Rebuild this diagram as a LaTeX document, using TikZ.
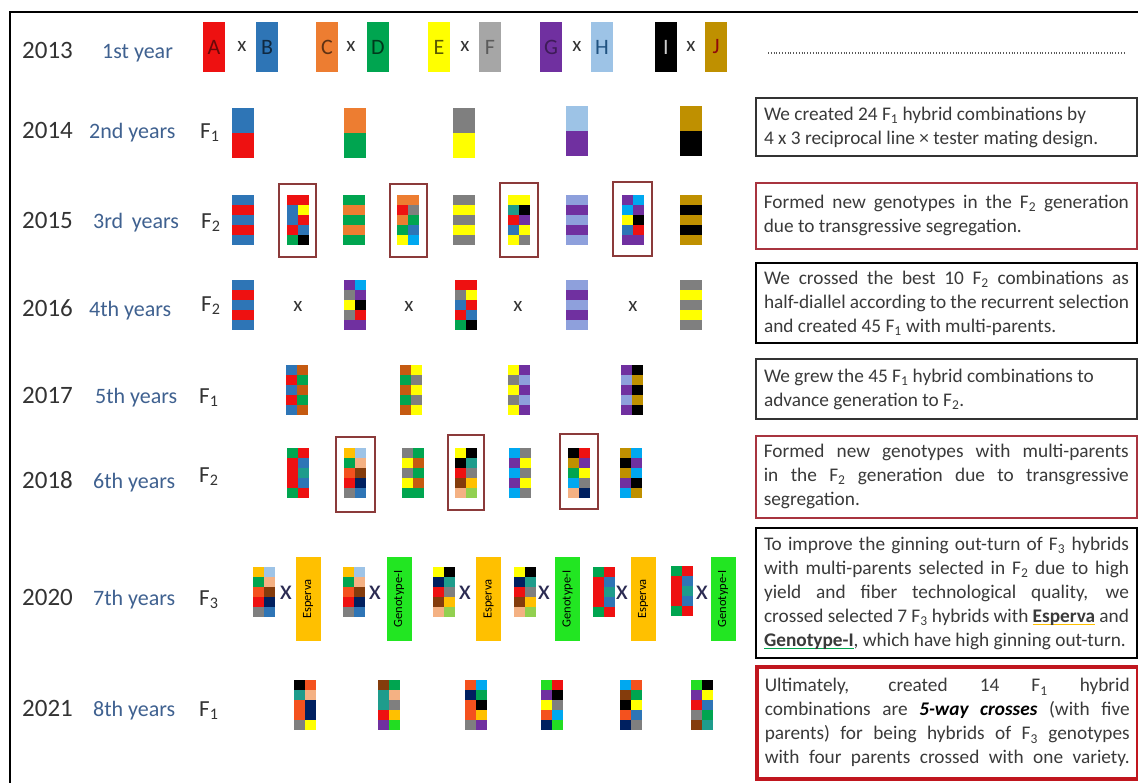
\documentclass[tikz,border=0pt]{standalone}
\usepackage{fontspec}
\setmainfont{Carlito}
\definecolor{cR}{HTML}{EE1111}
\definecolor{cB}{HTML}{2E75B6}
\definecolor{cO}{HTML}{ED7D31}
\definecolor{cBo}{HTML}{C55A11}
\definecolor{cG}{HTML}{00A550}
\definecolor{cY}{HTML}{FFFF00}
\definecolor{cGy}{HTML}{7F7F7F}
\definecolor{cGl}{HTML}{A6A6A6}
\definecolor{cP}{HTML}{7030A0}
\definecolor{cLb}{HTML}{9DC3E6}
\definecolor{cLp}{HTML}{8EA0DC}
\definecolor{cK}{HTML}{000000}
\definecolor{cJ}{HTML}{BF9000}
\definecolor{cS}{HTML}{00A8F0}
\definecolor{cN}{HTML}{002060}
\definecolor{cSa}{HTML}{F4B183}
\definecolor{cT}{HTML}{1E9C8C}
\definecolor{cBr}{HTML}{843C0C}
\definecolor{cOr}{HTML}{F4511E}
\definecolor{cLg}{HTML}{92D050}
\definecolor{cBg}{HTML}{22DD22}
\definecolor{cAu}{HTML}{FFC000}
\definecolor{cEs}{HTML}{FFC000}
\definecolor{cGe}{HTML}{22E622}
\definecolor{cFr}{HTML}{8B3A3A}
\definecolor{txt}{HTML}{3A3A3A}
\definecolor{steel}{HTML}{3F6190}
\definecolor{bred}{HTML}{C0161E}
\definecolor{mred}{HTML}{A8343F}
\definecolor{dgr}{HTML}{333333}

\newcommand\mosaic[3]{%
  \foreach \mc [count=\mi from 0] in {#3}{%
    \pgfmathtruncatemacro\mrow{\mi/2}%
    \pgfmathtruncatemacro\mcol{\mi-2*\mrow}%
    \fill[\mc] ({#1+11*\mcol},{#2+10*\mrow}) rectangle ++(11,10);}}
\newcommand\stripes[4]{%
  \fill[#3] ({#1},{#2}) rectangle ++(22,50);
  \fill[#4] ({#1},{#2+10}) rectangle ++(22,10);
  \fill[#4] ({#1},{#2+30}) rectangle ++(22,10);}
\newcommand\halves[4]{%
  \fill[#3] ({#1},{#2}) rectangle ++(22,25);
  \fill[#4] ({#1},{#2+25}) rectangle ++(22,25);}
\newcommand\TB{\spaceskip=0pt\xspaceskip=0pt\relax}
\newcommand\JL[1]{\makebox[365pt][s]{\spaceskip=\fontdimen2\font plus 1em minus .1em\xspaceskip=0pt\relax#1}}
\newcommand\myul[2]{\leavevmode\setbox0=\hbox{#2}\rlap{\color{#1}\rule[-3pt]{\wd0}{1.2pt}}\box0\relax}

\tikzset{
  pbox/.style={minimum width=22pt, minimum height=50pt, inner sep=0pt, font=\fontsize{22}{22}\selectfont},
  xs/.style={inner sep=0pt, text=dgr, font=\fontsize{21}{21}\selectfont},
  xb/.style={inner sep=0pt, text=dgr!85!blue, font=\fontsize{28}{28}\selectfont},
  ylab/.style={anchor=base west, inner sep=0pt, text=dgr, font=\fontsize{25}{25}\selectfont},
  rlab/.style={anchor=base west, inner sep=0pt, text=steel, font=\fontsize{22}{22}\selectfont},
  flab/.style={anchor=base west, inner sep=0pt, text=dgr, font=\fontsize{23}{23}\selectfont},
  frm/.style={draw=cFr, line width=1.6pt},
  tbox/.style={draw=cK, line width=2pt, text width=365pt, inner xsep=8pt, inner ysep=0pt,
    align=left, anchor=north west, text=txt, font=\fontsize{19.3}{24}\selectfont},
  bar/.style={minimum width=84pt, minimum height=25pt, inner sep=0pt, rotate=90,
    font=\fontsize{12.5}{12.5}\selectfont},
  dotline/.style={line width=1.3pt, dash pattern=on 1pt off 1.8pt, draw=gray!70!black}
}

\begin{document}
\begin{tikzpicture}[x=1pt,y=-1pt]
\useasboundingbox (0,0) rectangle (1138,782);
\clip (0,0) rectangle (1138,782);
\fill[white] (0,0) rectangle (1138,782);
\draw[line width=2.5pt] (10,800) -- (10,12) -- (1150,12);

% ---------- labels ----------
\node[ylab] (y13) at (22,58) {2013};
\node[rlab] (l13) at (102,58) {1st year};
\node[ylab] (y14) at (22,138) {2014};
\node[rlab] (l14) at (89,138) {2nd years};
\node[flab] (f14) at (200,138) {F\textsubscript{1}};
\node[ylab] (y15) at (22,228) {2015};
\node[rlab] (l15) at (93,228) {3rd\, years};
\node[flab] (f15) at (201,228) {F\textsubscript{2}};
\node[ylab] (y16) at (22,316) {2016};
\node[rlab] (l16) at (89,316) {4th years};
\node[flab] (f16) at (201,311) {F\textsubscript{2}};
\node[ylab] (y17) at (22,403) {2017};
\node[rlab] (l17) at (95,403) {5th years};
\node[flab] (f17) at (199,403) {F\textsubscript{1}};
\node[ylab] (y18) at (22,488) {2018};
\node[rlab] (l18) at (93,488) {6th years};
\node[flab] (f18) at (199,482) {F\textsubscript{2}};
\node[ylab] (y20) at (22,605) {2020};
\node[rlab] (l20) at (93,605) {7th years};
\node[flab] (f20) at (199,605) {F\textsubscript{3}};
\node[ylab] (y21) at (22,716) {2021};
\node[rlab] (l21) at (93,716) {8th years};
\node[flab] (f21) at (199,716) {F\textsubscript{1}};

% ---------- row 1 ----------
\node[pbox, fill=cR, text=cR!45!black] (pA) at (214,47) {A};
\node[xs] (x1) at (242,46) {x};
\node[pbox, fill=cB, text=cB!35!black] (pB) at (267,47) {B};
\node[pbox, fill=cO, text=cO!40!black] (pC) at (327,47) {C};
\node[xs] (x2) at (351,46) {x};
\node[pbox, fill=cG, text=cG!35!black] (pD) at (378,47) {D};
\node[pbox, fill=cY, text=cY!35!black] (pE) at (439,47) {E};
\node[xs] (x3) at (465,46) {x};
\node[pbox, fill=cGl, text=cGl!55!black] (pF) at (490,47) {F};
\node[pbox, fill=cP, text=cP!55!black] (pG) at (551,47) {G};
\node[xs] (x4) at (577,46) {x};
\node[pbox, fill=cLb, text=cB!70!black] (pH) at (602,47) {H};
\node[pbox, fill=cK, text=white!80!black] (pI) at (666,47) {I};
\node[xs] (x5) at (691,46) {x};
\node[pbox, fill=cJ, text=cR!60!black] (pJ) at (716,47) {J};
\draw[dotline] (768,53) -- (1124,53);

% ---------- row 2 ----------
\halves{232}{108}{cB}{cR}
\halves{344}{108}{cO}{cG}
\halves{453}{108}{cGy}{cY}
\halves{566}{106}{cLb}{cP}
\halves{680}{106}{cJ}{cK}

% ---------- row 3 ----------
\stripes{232}{195}{cB}{cR}
\draw[frm] (279,184) rectangle (316,257);
\mosaic{287}{195}{cR,cR, cB,cY, cB,cR, cR,cB, cG,cK}
\stripes{343}{195}{cG}{cO}
\draw[frm] (390,184) rectangle (427,257);
\mosaic{397}{195}{cO,cO, cR,cGy, cO,cG, cG,cB, cY,cS}
\stripes{453}{195}{cGy}{cY}
\draw[frm] (500,183) rectangle (538,257);
\mosaic{508}{195}{cY,cY, cT,cK, cR,cP, cB,cY, cY,cGy}
\stripes{566}{195}{cLp}{cP}
\draw[frm] (613,182) rectangle (652,256);
\mosaic{622}{195}{cP,cS, cS,cP, cY,cK, cB,cR, cP,cP}
\stripes{680}{195}{cJ}{cK}

% ---------- row 4 ----------
\stripes{232}{280}{cB}{cR}
\node[xs] (x6) at (298,306) {x};
\mosaic{344}{280}{cP,cS, cGy,cP, cY,cK, cGy,cR, cP,cP}
\node[xs] (x7) at (409,306) {x};
\mosaic{455}{280}{cR,cR, cGy,cY, cB,cR, cR,cB, cG,cK}
\node[xs] (x8) at (518,306) {x};
\stripes{566}{280}{cLp}{cP}
\node[xs] (x9) at (633,306) {x};
\stripes{680}{280}{cGy}{cY}

% ---------- row 5 ----------
\mosaic{286}{365}{cB,cBo, cR,cG, cB,cBo, cR,cG, cB,cBo}
\mosaic{400}{365}{cBo,cY, cG,cGy, cBo,cY, cG,cGy, cBo,cY}
\mosaic{508}{365}{cY,cP, cGy,cLp, cY,cP, cGy,cLp, cY,cP}
\mosaic{621}{365}{cP,cK, cLp,cJ, cP,cK, cLp,cJ, cP,cK}

% ---------- row 6 ----------
\mosaic{287}{448}{cG,cR, cR,cB, cR,cT, cR,cB, cG,cR}
\draw[frm] (336,437) rectangle (375,512);
\mosaic{344}{448}{cAu,cLb, cG,cSa, cOr,cBr, cR,cN, cGy,cB}
\mosaic{402}{448}{cGy,cG, cY,cBo, cGy,cG, cY,cBo, cG,cG}
\draw[frm] (448,435) rectangle (484,510);
\mosaic{455}{448}{cY,cK, cK,cT, cR,cGy, cBr,cAu, cSa,cLg}
\mosaic{509}{448}{cS,cGy, cP,cY, cS,cGy, cP,cY, cS,cGy}
\draw[frm] (560,434) rectangle (598,509);
\mosaic{568}{448}{cK,cR, cJ,cP, cG,cY, cS,cGy, cSa,cN}
\mosaic{620}{448}{cJ,cS, cK,cP, cJ,cS, cP,cK, cS,cJ}

% ---------- row 7 ----------
\mosaic{253}{567}{cAu,cLb, cG,cSa, cOr,cBr, cR,cN, cGy,cB}
\node[xb] (x10) at (286,593) {x};
\node[bar, fill=cEs] (e1) at (308,599) {Esperva};
\mosaic{343}{567}{cAu,cLb, cG,cSa, cOr,cBr, cR,cN, cGy,cB}
\node[xb] (x11) at (375,593) {x};
\node[bar, fill=cGe] (g1) at (399,599) {Genotype-I};
\mosaic{433}{567}{cY,cK, cN,cT, cR,cGy, cBr,cAu, cSa,cLg}
\node[xb] (x12) at (465,593) {x};
\node[bar, fill=cEs] (e2) at (488.5,599) {Esperva};
\mosaic{514}{567}{cY,cK, cN,cT, cR,cGy, cBr,cAu, cSa,cLg}
\node[xb] (x13) at (544,593) {x};
\node[bar, fill=cGe] (g2) at (567.5,599) {Genotype-I};
\mosaic{593}{567}{cG,cR, cR,cB, cR,cT, cR,cB, cG,cR}
\node[xb] (x14) at (622,593) {x};
\node[bar, fill=cEs] (e3) at (643,599) {Esperva};
\mosaic{671}{566}{cG,cR, cR,cB, cR,cT, cR,cB, cG,cR}
\node[xb] (x15) at (702,593) {x};
\node[bar, fill=cGe] (g3) at (723,599) {Genotype-I};

% ---------- row 8 ----------
\mosaic{294}{680}{cK,cOr, cT,cSa, cOr,cN, cOr,cN, cGy,cY}
\mosaic{378}{680}{cBr,cG, cT,cSa, cT,cGy, cR,cAu, cP,cBg}
\mosaic{465}{680}{cOr,cS, cN,cG, cOr,cK, cOr,cAu, cGy,cP}
\mosaic{541}{680}{cBg,cR, cP,cK, cY,cGy, cOr,cS, cN,cBg}
\mosaic{620}{680}{cS,cOr, cBr,cG, cK,cY, cOr,cB, cN,cGy}
\mosaic{691}{680}{cBg,cK, cP,cY, cR,cB, cGy,cG, cBr,cT}

% ---------- text boxes ----------
\node[tbox, draw=dgr, minimum height=58pt] (t2) at (755,97)
  {\TB We created 24 F\textsubscript{1} hybrid combinations by\\4 x 3 reciprocal line × tester mating design.};
\node[tbox, draw=mred, line width=1.6pt, minimum height=66pt] (t3) at (755,182)
  {\TB\JL{Formed new genotypes in the F\textsubscript{2} generation}\\due to transgressive segregation.};
\node[tbox, minimum height=80pt] (t4) at (755,262)
  {\TB\JL{We crossed the best 10 F\textsubscript{2} combinations as}\\\JL{half-diallel according to the recurrent selection}\\and created 45 F\textsubscript{1} with multi-parents.};
\node[tbox, draw=dgr, minimum height=60pt] (t5) at (755,358)
  {\TB We grew the 45 F\textsubscript{1} hybrid combinations to\\advance generation to F\textsubscript{2}.};
\node[tbox, draw=mred, line width=1.6pt, minimum height=82pt] (t6) at (755,435)
  {\TB\JL{Formed new genotypes with multi-parents}\\\JL{in the F\textsubscript{2} generation due to transgressive}\\segregation.};
\node[tbox, minimum height=130pt] (t7) at (755,527)
  {\TB\JL{To improve the ginning out-turn of F\textsubscript{3} hybrids}\\\JL{with multi-parents selected in F\textsubscript{2} due to high}\\\JL{yield and fiber technological quality, we}\\\JL{crossed selected 7 F\textsubscript{3} hybrids with \myul{cEs}{\textbf{Esperva}} and}\\\myul{cG}{\textbf{Genotype-I}}, which have high ginning out-turn.};
\node[tbox, draw=bred, line width=3.5pt, minimum height=112pt] (t8) at (755,665)
  {\TB\JL{Ultimately, created 14 F\textsubscript{1} hybrid}\\\JL{combinations are \textcolor{black}{\textbf{\textit{5-way crosses}}} (with five}\\\JL{parents) for being hybrids of F\textsubscript{3} genotypes}\\\JL{with four parents crossed with one variety.}};
\end{tikzpicture}
\end{document}
